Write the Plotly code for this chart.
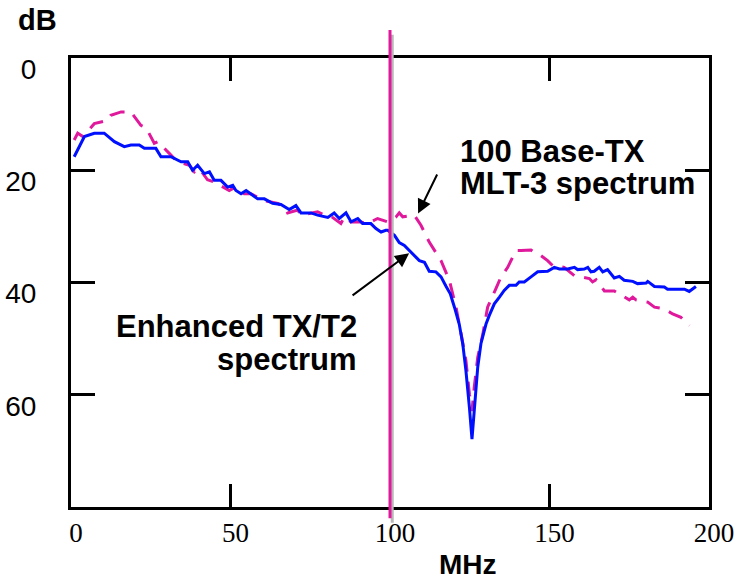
import plotly.graph_objects as go

# Enhanced TX/T2 spectrum (solid blue)
enh_mhz = [1.0, 4.2, 7.3, 10.4, 13.6, 16.7, 18.8, 21.4, 23.0, 26.6, 28.2, 31.3, 34.5, 36.6, 38.1, 39.7,
           41.8, 43.4, 44.9, 47.0, 49.1, 50.7, 51.7, 53.3, 54.9, 57.0, 58.5, 60.6, 63.2, 65.8, 68.4, 70.5,
           72.1, 75.2, 77.3, 80.5, 82.5, 84.1, 86.2, 87.8, 89.9, 91.4, 94.0, 95.6, 97.2, 98.7, 99.3,
           101.4, 102.9, 104.5, 107.1, 109.2, 110.8, 112.3, 114.4, 116.0, 117.6, 118.9, 120.2, 121.7,
           122.8, 123.8, 124.9, 125.7, 126.4, 127.5, 128.5, 130.1, 131.1, 132.7, 134.3, 135.8, 137.4,
           139.5, 140.5, 142.1, 144.2, 146.3, 149.4, 151.5, 153.1, 155.7, 157.8, 158.8, 160.9, 162.0,
           163.0, 164.0, 165.6, 166.7, 168.2, 170.3, 171.9, 173.4, 176.1, 177.6, 180.3, 180.8, 182.9,
           186.0, 187.0, 192.3, 193.8, 195.9]
enh_db = [17.6, 14.0, 13.4, 13.4, 14.9, 15.8, 15.5, 15.5, 16.1, 16.1, 17.6, 17.6, 18.5, 18.5, 20.0, 19.1,
          20.6, 20.3, 21.8, 21.8, 23.0, 22.7, 23.6, 24.2, 23.6, 24.5, 25.1, 25.1, 25.9, 26.1, 27.0, 26.3,
          27.6, 27.6, 28.0, 28.4, 27.6, 28.6, 27.6, 29.2, 28.6, 29.5, 29.5, 30.4, 31.0, 30.7, 30.7,
          31.6, 32.9, 33.4, 34.9, 36.1, 36.4, 38.0, 38.1, 39.0, 40.7, 42.0, 44.4, 47.4,
          50.9, 55.7, 62.3, 67.9, 62.9, 55.1, 50.9, 47.4, 45.9, 43.8, 42.6, 41.4, 40.5,
          40.5, 39.9, 39.9, 39.0, 38.1, 38.0, 37.3, 37.6, 37.6, 37.3, 37.7, 37.6, 37.3,
          38.1, 38.0, 37.3, 38.1, 37.7, 39.2, 38.9, 39.6, 39.8, 40.2, 40.1, 39.8, 40.7,
          40.8, 41.2, 41.2, 41.6, 40.7]

# 100 Base-TX MLT-3 spectrum (dashed magenta)
mlt_mhz = [1.0, 2.1, 3.7, 7.3, 11.5, 12.5, 15.7, 18.8, 21.9, 23.5, 26.1, 27.2, 30.8, 33.4, 37.1, 38.7,
           40.2, 42.8, 44.9, 49.6, 51.7, 54.3, 56.4, 60.6, 64.8, 66.9, 67.9, 71.1, 72.1, 77.3, 79.4,
           81.5, 84.6, 85.7, 87.8, 90.9, 93.0, 96.1, 99.3, 101.9, 102.9, 104.0, 107.6, 109.7, 112.3,
           116.0, 118.6, 120.7, 122.3, 123.8, 124.9, 125.7, 126.4, 127.5, 129.1, 130.6, 133.2, 134.8,
           136.9, 138.4, 139.5, 141.1, 144.2, 145.2, 147.3, 149.4, 151.0, 154.6, 157.8, 162.5, 163.5,
           164.6, 167.2, 170.3, 175.0, 176.1, 177.1, 180.8, 182.9, 186.0, 188.6, 191.2, 193.8]
mlt_db = [14.6, 13.4, 14.0, 11.7, 11.1, 10.2, 9.6, 9.6, 12.0, 12.4, 15.2, 14.9, 17.0, 18.5, 19.1, 20.3,
          19.7, 21.7, 22.1, 23.6, 23.0, 24.2, 24.2, 25.4, 25.9, 26.6, 27.6, 27.1, 28.0, 27.4, 28.0,
          28.2, 29.5, 28.3, 29.2, 29.2, 29.5, 28.6, 29.2, 28.3, 27.6, 28.3, 28.0, 29.8, 32.8,
          36.1, 39.6, 44.4, 49.2, 53.9, 59.9, 62.9, 58.7, 53.3, 49.2, 44.4, 41.1, 39.0,
          37.3, 35.5, 34.3, 34.3, 34.2, 34.6, 35.2, 36.1, 37.0, 37.3, 38.8, 39.3, 39.9,
          39.5, 41.5, 41.5, 43.1, 42.6, 43.1, 43.5, 44.4, 44.7, 45.6, 46.2, 47.7]

x_ticks = [0, 50, 100, 150, 200]
y_ticks = [0, 20, 40, 60]
marker_mhz = 100

MAG = "#e0189c"

fig = go.Figure()
fig.add_trace(go.Scatter(x=mlt_mhz, y=mlt_db, mode="lines",
                         line=dict(color=MAG, width=3, dash="15px,10px"),
                         showlegend=False, hoverinfo="skip"))
fig.add_trace(go.Scatter(x=enh_mhz, y=enh_db, mode="lines",
                         line=dict(color="#0010ff", width=3),
                         showlegend=False, hoverinfo="skip"))

# vertical marker line with grey shadow
fig.add_shape(type="line", xref="x", yref="paper", x0=marker_mhz + 0.7, x1=marker_mhz + 0.7,
              y0=-0.035, y1=1.052, line=dict(color="#b8b8b8", width=3), layer="above")
fig.add_shape(type="line", xref="x", yref="paper", x0=marker_mhz, x1=marker_mhz,
              y0=-0.025, y1=1.0625, line=dict(color=MAG, width=3), layer="above")

def label(x, y, text, anchor, size):
    fig.add_annotation(x=x, y=y, xref="x", yref="y", text="<b>" + text + "</b>", showarrow=False,
                       xanchor=anchor, yanchor="middle",
                       font=dict(family="Liberation Sans, Arial", size=size, color="black"))

label(121.3, 16.6, "100 Base-TX", "left", 31)
label(121.3, 22.4, "MLT-3 spectrum", "left", 31)
label(90.3, 47.9, "Enhanced TX/T2", "right", 31)
label(90.3, 53.7, "spectrum", "right", 31)

fig.add_annotation(x=108.8, y=27.7, ax=115.0, ay=20.5, xref="x", yref="y", axref="x", ayref="y",
                   text="", showarrow=True, arrowhead=2, arrowsize=1.4, arrowwidth=2, arrowcolor="black")
fig.add_annotation(x=106.0, y=34.8, ax=87.8, ay=42.5, xref="x", yref="y", axref="x", ayref="y",
                   text="", showarrow=True, arrowhead=2, arrowsize=1.4, arrowwidth=2, arrowcolor="black")

fig.add_annotation(x=-0.053, y=1.085, xref="paper", yref="paper", text="<b>dB</b>", showarrow=False,
                   xanchor="center", yanchor="middle", font=dict(family="Liberation Sans, Arial", size=29, color="black"))
fig.add_annotation(x=0.622, y=-0.127, xref="paper", yref="paper", text="<b>MHz</b>", showarrow=False,
                   xanchor="center", yanchor="middle", font=dict(family="Liberation Sans, Arial", size=28, color="black"))

fig.update_layout(
    width=740, height=579,
    margin=dict(l=71, r=31, t=58, b=72),
    paper_bgcolor="white", plot_bgcolor="white",
    xaxis=dict(range=[0, 200], tickvals=x_ticks, ticks="inside", ticklen=23, tickwidth=3,
               tickcolor="black", showline=True, linewidth=3, linecolor="black", mirror="allticks",
               showgrid=False, zeroline=False, automargin=False,
               tickfont=dict(family="Liberation Serif, Times New Roman", size=27, color="black"),
               ticklabelstandoff=0, ticklabelshift=5),
    yaxis=dict(range=[80, 0], tickvals=y_ticks, ticks="inside", ticklen=24, tickwidth=3,
               tickcolor="black", showline=True, linewidth=3, linecolor="black", mirror="allticks",
               showgrid=False, zeroline=False, automargin=False,
               tickfont=dict(family="Liberation Sans, Arial", size=28, color="black"),
               ticklabelstandoff=26, ticklabelshift=-11),
)

fig.write_html("out.html", config={"displayModeBar": False},
               post_script="document.body.style.margin='0';")
